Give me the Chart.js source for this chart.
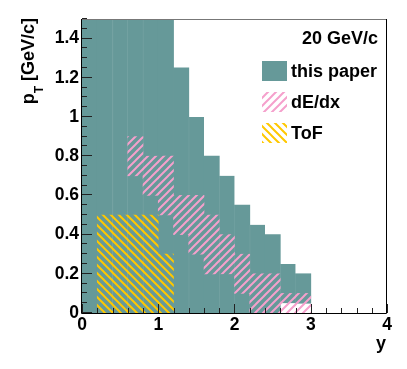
<!DOCTYPE html>
<html>
<head>
<meta charset="utf-8">
<script src="https://cdn.jsdelivr.net/npm/chart.js@4.4.0/dist/chart.umd.min.js"></script>
<style>
  html, body { margin: 0; padding: 0; background: #fff; }
  canvas { display: block; }
</style>
</head>
<body>
<canvas id="myChart" width="407" height="369"></canvas>
<script>
// rapidity bin edges (0.2 wide)
const yEdges = [0, 0.2, 0.4, 0.6, 0.8, 1.0, 1.2, 1.4, 1.6, 1.8, 2.0, 2.2, 2.4, 2.6, 2.8, 3.0];

// pT ranges per rapidity bin [GeV/c]
const paperLow  = [0, 0, 0, 0, 0, 0, 0, 0, 0, 0, 0, 0, 0, 0.05, 0.05];
const paperHigh = [1.5, 1.5, 1.5, 1.5, 1.5, 1.5, 1.25, 1.0, 0.8, 0.7, 0.55, 0.45, 0.4, 0.25, 0.2];

const dedxLow  = [null, null, null, 0.7, 0.6, 0.5, 0.4, 0.3, 0.2, 0.2, 0.1, 0, 0, 0, 0];
const dedxHigh = [null, null, null, 0.9, 0.8, 0.8, 0.6, 0.6, 0.5, 0.4, 0.3, 0.2, 0.2, 0.1, 0.1];

const tofLow  = [null, 0, 0, 0, 0, 0, null, null, null, null, null, null, null, null, null];
const tofHigh = [null, 0.5, 0.5, 0.5, 0.5, 0.3, null, null, null, null, null, null, null, null, null];

const xTicks = [0, 1, 2, 3, 4];
const yTicks = [0, 0.2, 0.4, 0.6, 0.8, 1.0, 1.2, 1.4];

const labels = ['this paper', 'dE/dx', 'ToF'];
const energyLabel = '20 GeV/c';

const FONT = "'Liberation Sans', Arial, sans-serif";
const teal = '#669999';
const pink = '#f5a0cc';
const yellow = '#ffc800';

function makeHatch(color, dir) {
    const c = document.createElement('canvas');
    c.width = 8; c.height = 8;
    const g = c.getContext('2d');
    g.strokeStyle = color;
    g.lineWidth = 2;
    g.beginPath();
    for (let k = -8; k <= 8; k += 8) {
        if (dir == '/') { g.moveTo(k - 1, 9); g.lineTo(k + 9, -1); }
        else { g.moveTo(k - 1, -1); g.lineTo(k + 9, 9); }
    }
    g.stroke();
    return g.createPattern(c, 'repeat');
}

const pinkHatch = makeHatch(pink, '/');
const yellowHatch = makeHatch(yellow, '\\');

function binData(lo, hi) {
    const out = [];
    for (let i = 0; i < lo.length; i++) {
        if (lo[i] === null) continue;
        out.push({ x: (yEdges[i] + yEdges[i + 1]) / 2, y: [lo[i], hi[i]] });
    }
    return out;
}

// faint seams seen inside the filled area
const seamEdges = [0.4, 0.8, 1.4, 1.8, 2.2, 2.6];

const ctx = document.getElementById('myChart');

const rootStyle = {
    id: 'rootStyle',
    afterDatasetsDraw(chart) {
        const c = chart.ctx;
        const a = chart.chartArea;
        const xs = chart.scales.x, ys = chart.scales.y;
        c.save();
        // inward ticks
        c.strokeStyle = '#222';
        c.lineWidth = 1;
        c.beginPath();
        for (let v = 0; v <= 4.0001; v += 0.2) {
            const px = Math.round(xs.getPixelForValue(v)) + 0.5;
            const major = Math.abs(v - Math.round(v)) < 1e-6;
            c.moveTo(px, a.bottom);
            c.lineTo(px, a.bottom - (major ? 9 : 5));
        }
        for (let v = 0; v <= 1.5001; v += 0.05) {
            const py = Math.round(ys.getPixelForValue(v)) - 0.5;
            const major = Math.abs(v / 0.2 - Math.round(v / 0.2)) < 1e-6;
            c.moveTo(a.left, py);
            c.lineTo(a.left + (major ? 10 : 5), py);
        }
        c.stroke();
        // frame
        c.strokeStyle = '#777';
        c.beginPath();
        c.moveTo(a.left, a.top + 0.5);
        c.lineTo(a.right, a.top + 0.5);
        c.stroke();
        c.strokeStyle = '#000';
        c.beginPath();
        c.moveTo(a.left - 0.5, a.top);
        c.lineTo(a.left - 0.5, a.bottom + 0.5);
        c.lineTo(a.right - 0.5, a.bottom + 0.5);
        c.lineTo(a.right - 0.5, a.top);
        c.stroke();

        // axis titles
        c.fillStyle = '#000';
        c.textBaseline = 'alphabetic';
        c.font = 'bold 18px ' + FONT;
        c.textAlign = 'right';
        c.fillText('y', a.right - 1, 349);

        c.save();
        c.translate(34, a.top - 1);
        c.rotate(-Math.PI / 2);
        c.textAlign = 'left';
        const wp = c.measureText('p').width;
        const rest = ' [GeV/c]';
        const wr = c.measureText(rest).width;
        c.font = 'bold 12px ' + FONT;
        const wt = c.measureText('T').width;
        const W = wp + wt + wr;
        c.font = 'bold 18px ' + FONT;
        c.fillText('p', -W, 0);
        c.font = 'bold 12px ' + FONT;
        c.fillText('T', -W + wp, 9);
        c.font = 'bold 18px ' + FONT;
        c.fillText(rest, -W + wp + wt, 0);
        c.restore();

        // legend
        c.textAlign = 'right';
        c.fillText(energyLabel, 378, 44);
        const fills = [teal, pinkHatch, yellowHatch];
        const boxTop = [61, 92, 123];
        c.textAlign = 'left';
        for (let i = 0; i < labels.length; i++) {
            c.fillStyle = fills[i];
            c.fillRect(262, boxTop[i], 25, 20);
            c.fillStyle = '#000';
            c.fillText(labels[i], 291, boxTop[i] + 16);
        }
        c.restore();
    }
};

function plainLabel(v) {
    return String(+v.toFixed(2));
}

new Chart(ctx, {
    type: 'bar',
    data: {
        datasets: [
            {
                label: labels[2],
                data: binData(tofLow, tofHigh),
                backgroundColor: yellowHatch,
                borderWidth: 0,
                order: 0
            },
            {
                label: labels[1],
                data: binData(dedxLow, dedxHigh),
                backgroundColor: pinkHatch,
                borderWidth: 0,
                order: 1
            },
            {
                label: labels[0],
                data: binData(paperLow, paperHigh),
                backgroundColor: teal,
                borderColor: '#74a2a2',
                borderSkipped: false,
                borderWidth: function (c) {
                    const left = c.raw.x - 0.1;
                    const seam = seamEdges.some(e => Math.abs(e - left) < 1e-6);
                    return seam ? { left: 1, right: 0, top: 0, bottom: 0 } : 0;
                },
                inflateAmount: 0.4,
                order: 2
            }
        ]
    },
    options: {
        responsive: false,
        animation: false,
        grouped: false,
        barPercentage: 1,
        categoryPercentage: 1,
        layout: { padding: { top: 19, right: 20, left: 0, bottom: 0 } },
        plugins: {
            legend: { display: false },
            tooltip: { enabled: false }
        },
        scales: {
            x: {
                type: 'linear',
                min: 0,
                max: 4,
                offset: false,
                grid: { display: false, drawTicks: false },
                border: { display: false },
                afterFit: function (s) { s.height = 56; },
                afterBuildTicks: function (s) { s.ticks = xTicks.map(v => ({ value: v })); },
                ticks: {
                    padding: 2,
                    color: '#000',
                    callback: plainLabel,
                    font: { family: FONT, weight: 'bold', size: 17.5 }
                }
            },
            y: {
                type: 'linear',
                min: 0,
                max: 1.5,
                grid: { display: false, drawTicks: false },
                border: { display: false },
                afterFit: function (s) { s.width = 82; },
                afterBuildTicks: function (s) { s.ticks = yTicks.map(v => ({ value: v })); },
                ticks: {
                    padding: 3,
                    color: '#000',
                    callback: plainLabel,
                    font: { family: FONT, weight: 'bold', size: 17.5 }
                }
            }
        }
    },
    plugins: [rootStyle]
});
</script>
</body>
</html>
